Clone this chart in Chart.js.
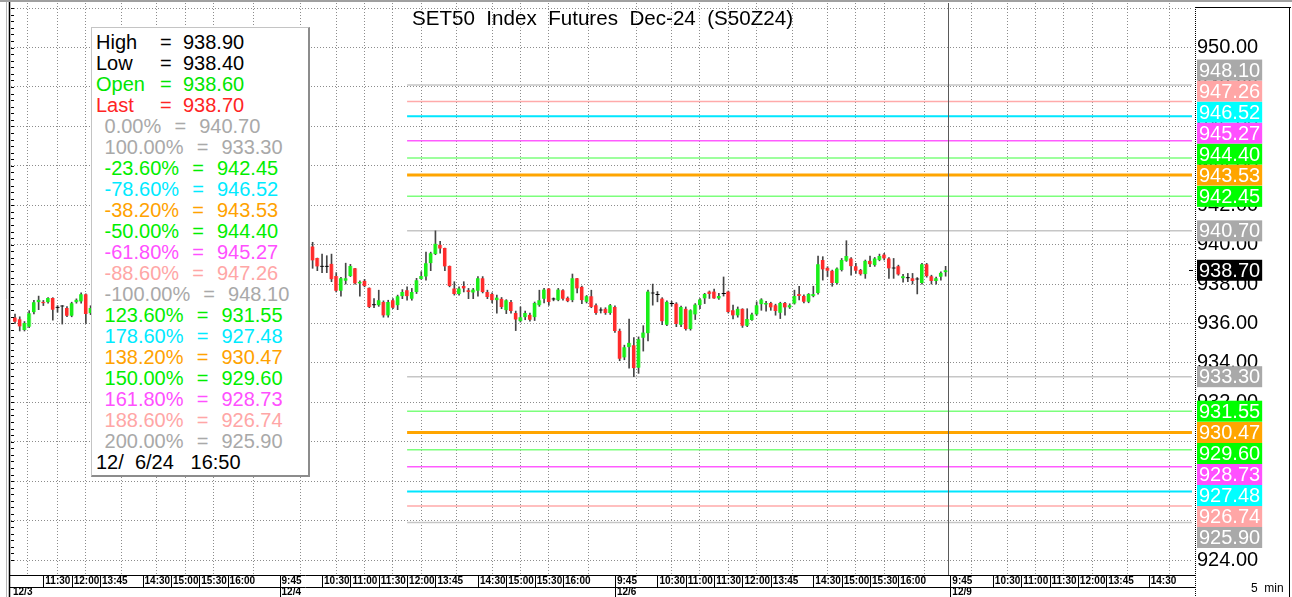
<!DOCTYPE html>
<html><head><meta charset="utf-8">
<script src="https://cdn.jsdelivr.net/npm/chart.js"></script>
<style>
html,body{margin:0;padding:0;background:#fff;overflow:hidden;}
#wrap{position:relative;width:1292px;height:597px;overflow:hidden;background:#fff;}
#c{position:absolute;left:0;top:0;}
#title{position:absolute;left:11px;width:1183px;top:7px;text-align:center;font-family:'Liberation Sans',Arial,sans-serif;font-size:20.6px;line-height:21px;white-space:pre;color:#000;}
#box{position:absolute;left:91px;top:27px;width:219px;height:450px;box-sizing:border-box;background:#fff;border:1px solid #c4c4c4;border-right:2px solid #8c8c8c;border-bottom:2px solid #8c8c8c;padding:4px 0 0 4px;}
.row{height:21px;line-height:21px;font-family:'Liberation Sans',Arial,sans-serif;font-size:20px;white-space:pre;}
.fib{padding-left:2px;word-spacing:1px;}
.lab{display:inline-block;width:64px;}
.eq{display:inline-block;width:23px;}
#unit{position:absolute;left:1251px;top:581px;font-family:'Liberation Sans',Arial,sans-serif;font-size:12px;white-space:pre;color:#000;}
</style></head>
<body>
<div id="wrap">
<canvas id="c" width="1292" height="597"></canvas>
<div id="title">SET50  Index  Futures  Dec-24  (S50Z24)</div>
<div id="box"></div>
<div id="unit">5  min</div>
</div>
<script>
// ---------- DATA ----------
// 5-minute bars, index = bar number counted from 12/3 09:45 (0)
const seg1Start = 15;
const seg1Open  = [936.31,936.22,935.67,935.83,936.57,937.08,937.10,937.08,937.29,936.82,936.87,936.79,936.39,937.08,937.12,937.48,936.52];
const seg1High  = [936.48,936.34,936.10,936.65,937.17,937.39,937.17,937.31,937.31,936.91,936.91,936.86,937.08,937.25,937.56,937.50,936.90];
const seg1Low   = [936.00,935.62,935.62,935.79,936.48,936.70,936.91,937.03,936.17,936.57,935.97,936.34,936.34,937.03,937.03,936.00,936.45];
const seg1Close = [936.09,935.85,936.02,936.52,937.08,937.20,937.03,937.29,936.70,936.80,936.86,936.39,937.03,937.20,937.48,936.48,936.79];
// bars 32..77 are hidden behind the data box in the reference
const seg2Start = 78;
const seg2Open = [
939.91,939.32,938.90,938.89,939.03,938.41,937.66,938.17,938.41,938.80,
938.03,938.17,937.81,936.94,936.92,937.09,936.41,937.18,936.92,937.38,
937.69,937.26,937.60,938.26,938.38,939.06,939.52,940.00,939.83,938.92,
937.78,937.49,937.90,937.69,937.57,937.66,938.29,937.60,937.49,937.18,
937.26,936.67,937.09,936.53,936.12,936.32,936.44,936.32,936.92,937.26,
937.78,937.24,937.18,937.69,937.30,937.18,938.29,937.86,937.10,937.38,
936.92,936.68,936.75,936.53,936.84,935.63,934.28,934.80,934.90,933.76,
935.28,935.50,937.54,937.46,937.27,935.94,937.01,937.01,935.94,936.75,
935.72,936.46,936.93,937.27,937.62,937.62,937.27,937.51,937.62,936.67,
936.41,936.75,935.89,936.18,936.46,936.98,936.96,937.04,936.93,936.54,
937.04,936.81,937.01,937.49,937.39,937.10,937.39,937.55,939.22,938.83,
938.68,938.06,938.71,939.18,939.30,938.91,938.71,938.50,939.18,938.96,
939.22,939.50,939.30,938.80,938.91,938.29,938.29,938.29,938.23,938.06,
939.00,938.40,938.15,938.37,938.60];
const seg2High = [
940.12,939.32,939.52,939.44,939.52,938.58,938.34,939.06,939.00,938.80,
938.17,938.24,937.81,937.26,937.69,937.15,937.18,937.26,937.44,937.72,
937.86,937.78,938.29,938.63,939.62,939.62,940.70,940.17,939.83,938.92,
938.12,937.86,938.12,937.78,937.78,938.38,938.38,937.69,937.55,937.44,
937.32,937.21,937.18,936.63,936.84,936.63,936.53,937.09,937.69,937.78,
937.78,937.30,937.78,937.72,937.35,938.51,938.29,937.90,937.42,937.69,
937.00,936.80,936.80,936.97,936.90,935.72,934.90,936.23,935.28,935.32,
935.89,937.70,938.00,937.62,937.31,937.15,937.13,937.06,936.88,936.84,
936.70,937.01,937.27,937.53,937.65,937.74,937.53,938.36,937.65,936.93,
936.84,936.75,936.75,936.53,937.10,937.26,937.12,937.08,936.98,937.08,
937.08,937.00,937.69,937.89,937.45,937.52,937.89,939.42,939.39,938.88,
938.71,938.83,939.30,940.20,939.35,939.05,938.75,939.22,939.42,939.35,
939.52,939.56,939.35,939.30,938.96,938.50,938.54,938.54,938.33,939.05,
939.05,938.45,938.35,938.62,938.90];
const seg2Low = [
938.80,938.68,938.58,938.58,938.12,937.60,937.38,938.00,938.38,938.00,
937.38,937.86,936.80,936.80,936.87,936.32,936.32,936.75,936.70,937.26,
937.18,937.18,937.52,938.24,938.20,938.68,939.49,939.57,938.68,937.86,
937.44,937.44,937.60,937.26,937.26,937.38,937.55,937.26,937.04,936.53,
936.75,936.50,936.53,935.64,936.07,936.19,936.12,936.15,936.87,937.04,
936.92,937.15,937.15,937.18,937.10,937.10,937.55,937.00,937.04,936.80,
936.46,936.53,936.46,936.46,935.55,934.11,934.16,933.73,933.30,933.47,
934.60,935.11,936.93,937.10,935.94,935.89,936.88,935.84,935.84,935.66,
935.66,936.20,936.75,937.01,937.27,937.27,937.22,937.39,936.53,936.23,
936.32,935.80,935.84,936.15,936.41,936.67,936.63,936.67,936.42,936.25,
936.42,936.76,936.98,937.20,937.05,937.05,937.35,937.49,938.20,938.37,
937.89,938.00,938.66,939.15,938.45,938.54,938.45,938.29,938.88,938.90,
939.18,939.22,938.29,938.29,938.45,938.10,938.12,938.00,937.50,938.00,
938.35,938.00,938.00,938.20,938.40];
const seg2Close = [
939.20,938.89,938.88,938.88,938.24,937.66,938.29,938.29,938.92,938.03,
938.12,937.90,936.84,936.92,937.18,936.41,937.09,936.80,937.38,937.60,
937.38,937.60,938.20,938.41,939.06,939.57,940.05,939.80,938.89,937.90,
937.49,937.78,937.78,937.60,937.72,938.29,937.60,937.35,937.18,937.32,
936.84,937.18,936.63,936.20,936.32,936.53,936.19,937.04,937.18,937.72,
937.09,937.22,937.72,937.26,937.13,938.29,937.78,937.18,937.38,936.84,
936.53,936.66,936.53,936.93,935.62,934.21,934.80,935.02,933.73,935.20,
935.54,937.62,937.52,937.44,936.11,937.10,936.99,935.98,936.84,935.72,
936.67,936.96,937.22,937.50,937.50,937.27,937.39,937.49,936.58,936.41,
936.75,935.89,936.23,936.46,936.93,937.22,937.04,936.81,936.64,937.04,
936.81,936.93,937.39,937.39,937.10,937.49,937.49,939.00,938.74,938.68,
938.06,938.79,939.22,939.42,938.91,938.68,938.50,939.18,939.00,939.30,
939.42,939.30,938.79,938.79,938.49,938.40,938.29,938.16,938.23,939.00,
938.40,938.16,938.29,938.57,938.70];

// Fibonacci levels (drawn from 12/4 12:00 bar)
const fibStartBar = 98;
const fibPct = ['0.00%','100.00%','-23.60%','-78.60%','-38.20%','-50.00%','-61.80%','-88.60%','-100.00%','123.60%','178.60%','138.20%','150.00%','161.80%','188.60%','200.00%'];
const fibVal = [940.70,933.30,942.45,946.52,943.53,944.40,945.27,947.26,948.10,931.55,927.48,930.47,929.60,928.73,926.74,925.90];
const fibGroup = ['gray','gray','green','cyan','orange','green','magenta','pink','gray','green','cyan','orange','green','magenta','pink','gray'];

// x-axis tick labels (bar index -> label)
const xTickBars   = [21,27,33,42,48,54,60, 71,80,86,92,98,104,113,119,125,131, 142,151,157,163,169,175,184,190,196,202, 213,222,228,234,240,246,255];
const xTickLabels = ['11:30','12:00','13:45','14:30','15:00','15:30','16:00',
 '9:45','10:30','11:00','11:30','12:00','13:45','14:30','15:00','15:30','16:00',
 '9:45','10:30','11:00','11:30','12:00','13:45','14:30','15:00','15:30','16:00',
 '9:45','10:30','11:00','11:30','12:00','13:45','14:30'];
const dayBars  = [71,142,213];
const dayNames = ['12/4','12/6','12/9'];
const firstDayName = '12/3';
const lastBarTime = '12/  6/24   16:50';

// ---------- STYLE ----------
const lineStyle = {
  gray:{c:'#c6c6c6',w:1.5}, green:{c:'#7cff7c',w:1.5}, cyan:{c:'#00e6ff',w:2},
  orange:{c:'#ffa500',w:3}, magenta:{c:'#ff5cff',w:1.6}, pink:{c:'#ffaaaa',w:1.5}
};
const tagColor = {gray:'#a9a9a9',green:'#00ff00',cyan:'#00ffff',orange:'#ffa500',magenta:'#ff50ff',pink:'#ffa6a6'};
const textColor = {gray:'#a9a9a9',green:'#00ee00',cyan:'#00eaff',orange:'#ffa200',magenta:'#ff50ff',pink:'#ffa6a6'};
const X_MIN = 14.15, X_MAX = 264.16, Y_MIN = 923.24, Y_MAX = 952.26;
const cursorBar = 212.5;

// ---------- build datasets ----------
const bodies = [], wicks = [], bodyBg = [], bodyBd = [];
function addSeg(start, o, h, l, c){
  for (let k = 0; k < o.length; k++){
    const i = start + k;
    wicks.push({x:i, y:[l[k], h[k]]});
    bodies.push({x:i, y:[o[k], c[k]]});
    const d = c[k] - o[k];
    if (d > 0.025){ bodyBg.push('#19ee19'); bodyBd.push('#a8f5a8'); }
    else if (d < -0.025){ bodyBg.push('#ff2b2b'); bodyBd.push('#ffb4b4'); }
    else { bodyBg.push('#000000'); bodyBd.push('#000000'); }
  }
}
addSeg(seg1Start, seg1Open, seg1High, seg1Low, seg1Close);
addSeg(seg2Start, seg2Open, seg2High, seg2Low, seg2Close);

const fibSets = fibVal.map((v, k) => ({
  type:'line', order:3,
  data:[{x:fibStartBar, y:v},{x:X_MAX, y:v}],
  borderColor: lineStyle[fibGroup[k]].c, borderWidth: lineStyle[fibGroup[k]].w,
  pointRadius:0, tension:0, fill:false
}));

const nL = seg2Open.length - 1;
const lastO = seg2Open[nL], lastH = seg2High[nL], lastL = seg2Low[nL], lastC = seg2Close[nL];

// ---------- legend box ----------
(function(){
  const box = document.getElementById('box');
  let html = '';
  const stats = [['High', lastH, '#000'], ['Low', lastL, '#000'], ['Open', lastO, '#00e600'], ['Last', lastC, '#ff2424']];
  stats.forEach(s => { html += `<div class="row" style="color:${s[2]}"><span class="lab">${s[0]}</span><span class="eq">=</span>${s[1].toFixed(2)}</div>`; });
  fibPct.forEach((p, k) => { html += `<div class="row fib" style="color:${textColor[fibGroup[k]]}"> ${p}  =  ${fibVal[k].toFixed(2)}</div>`; });
  html += `<div class="row" style="color:#000">${lastBarTime}</div>`;
  box.innerHTML = html;
})();

// ---------- x tick lookup ----------
const xLabelMap = {};
xTickBars.forEach((b, k) => {
  const di = dayBars.indexOf(b);
  xLabelMap[b] = di >= 0 ? [xTickLabels[k], dayNames[di]] : xTickLabels[k];
});

function seg(ctx, x1, y1, x2, y2){ ctx.beginPath(); ctx.moveTo(x1, y1); ctx.lineTo(x2, y2); ctx.stroke(); }

const framePlugin = {
  id:'frame',
  afterDraw(chart){
    const {ctx, chartArea:a, scales:{x, y}} = chart;
    ctx.save();
    // cursor line
    const cx = Math.round(x.getPixelForValue(cursorBar)) + 0.5;
    ctx.strokeStyle = '#5a5a5a'; ctx.lineWidth = 1;
    seg(ctx, cx, a.top, cx, a.bottom);
    // top border
    ctx.fillStyle = '#a0a0a0'; ctx.fillRect(0, 0, 1292, 2);
    // left borders
    ctx.strokeStyle = '#b8b8b8'; seg(ctx, 6.5, 2, 6.5, 597);
    ctx.strokeStyle = '#000'; ctx.lineWidth = 1.5; seg(ctx, 9.5, 2, 9.5, 597);
    ctx.lineWidth = 1;
    // left ruler minor ticks
    for (let v = 924; v < Y_MAX; v += 1/3){
      const py = Math.round(y.getPixelForValue(v)) + 0.5;
      seg(ctx, a.left, py, a.left + 3, py);
    }
    // right axis frame
    ctx.strokeStyle = '#000';
    ctx.setLineDash([1,1]); seg(ctx, 1195.5, 7, 1195.5, 597); ctx.setLineDash([]);
    seg(ctx, 1195, 7.5, 1291, 7.5);
    seg(ctx, 1289.5, 7, 1289.5, 597);
    // bottom axis lines
    seg(ctx, 9, a.bottom + 0.5, 1195, a.bottom + 0.5);
    seg(ctx, 9, a.bottom + 12.5, 1195, a.bottom + 12.5);
    // tick separators
    x.ticks.forEach(t => {
      if (t.value <= X_MIN) return;
      const px = Math.round(x.getPixelForValue(t.value)) + 0.5;
      seg(ctx, px, a.bottom, px, a.bottom + 12);
      if (dayBars.indexOf(t.value) >= 0) seg(ctx, px, a.bottom + 12, px, 597);
    });
    // price tags
    ctx.font = "20px 'Liberation Sans', Arial, sans-serif";
    ctx.textBaseline = 'middle'; ctx.textAlign = 'left';
    const tagH = 21;
    const drawTag = (v, py, bg) => {
      const txt = v.toFixed(2);
      const w = ctx.measureText(txt).width + 4;
      ctx.fillStyle = bg; ctx.fillRect(1197, py - tagH/2, w, tagH);
      ctx.fillStyle = '#fff'; ctx.fillText(txt, 1199, py + 1);
    };
    const idx = fibVal.map((v, k) => k);
    const up = idx.filter(k => fibVal[k] > lastC).sort((p, q) => fibVal[p] - fibVal[q]);
    const dn = idx.filter(k => fibVal[k] < lastC).sort((p, q) => fibVal[q] - fibVal[p]);
    let prev = Infinity;
    up.forEach(k => { let py = y.getPixelForValue(fibVal[k]); if (py > prev - tagH) py = prev - tagH; prev = py; drawTag(fibVal[k], py, tagColor[fibGroup[k]]); });
    prev = -Infinity;
    dn.forEach(k => { let py = y.getPixelForValue(fibVal[k]); if (py < prev + tagH) py = prev + tagH; prev = py; drawTag(fibVal[k], py, tagColor[fibGroup[k]]); });
    const lp = y.getPixelForValue(lastC);
    ctx.strokeStyle = '#000'; seg(ctx, 1189, Math.round(lp)+0.5, 1193, Math.round(lp)+0.5);
    drawTag(lastC, lp, '#000');
    ctx.restore();
  }
};

new Chart(document.getElementById('c'), {
  type:'bar',
  data:{ datasets:[
    { type:'bar', order:1, data:bodies, backgroundColor:bodyBg, borderColor:bodyBd,
      borderWidth:{top:0,left:0,bottom:0,right:1}, borderSkipped:false,
      barThickness:4, minBarLength:1, grouped:false },
    { type:'bar', order:2, data:wicks, backgroundColor:'#454545', barThickness:1, grouped:false, minBarLength:1 },
    ...fibSets
  ]},
  options:{
    responsive:false, animation:false, devicePixelRatio:1,
    layout:{ padding:{ left:11, top:3, right:0, bottom:0 } },
    plugins:{ legend:{display:false}, tooltip:{enabled:false}, title:{display:false} },
    scales:{
      x:{
        type:'linear', position:'bottom', min:X_MIN, max:X_MAX, offset:false,
        afterFit(s){ s.height = 22; s.paddingLeft = 0; s.paddingRight = 0; },
        afterBuildTicks(s){
          s.ticks = [{value:X_MIN}].concat(xTickBars.filter(b => b > X_MIN && b < X_MAX).map(b => ({value:b})));
        },
        ticks:{
          autoSkip:false, maxRotation:0, minRotation:0, align:'start', labelOffset:2, padding:1,
          color:'#000',
          font:{ family:"'Liberation Sans',Arial,sans-serif", size:10, weight:'bold', lineHeight:1.1 },
          callback(v){ if (v <= X_MIN) return ['', firstDayName]; return xLabelMap[v] !== undefined ? xLabelMap[v] : ''; }
        },
        grid:{ drawTicks:false, color(ctx){ return (ctx.tick && ctx.tick.value <= X_MIN) ? 'rgba(0,0,0,0)' : '#8c8c8c'; }, lineWidth:1 },
        border:{ display:false, dash:[1,2] }
      },
      y:{
        type:'linear', position:'right', min:Y_MIN, max:Y_MAX,
        afterFit(s){ s.width = 100; s.paddingTop = 0; s.paddingBottom = 0; },
        afterBuildTicks(s){
          const t = [];
          for (let v = Math.ceil(Y_MIN/2)*2; v <= Y_MAX; v += 2) t.push({value:v});
          s.ticks = t;
        },
        ticks:{ padding:5, color:'#000', font:{ family:"'Liberation Sans',Arial,sans-serif", size:20 },
          callback(v){ return v > 951 ? '' : Number(v).toFixed(2); } },
        grid:{ drawTicks:false, color:'#8c8c8c', lineWidth:1 },
        border:{ display:false, dash:[1,2] }
      }
    }
  },
  plugins:[framePlugin]
});
</script>
</body></html>
